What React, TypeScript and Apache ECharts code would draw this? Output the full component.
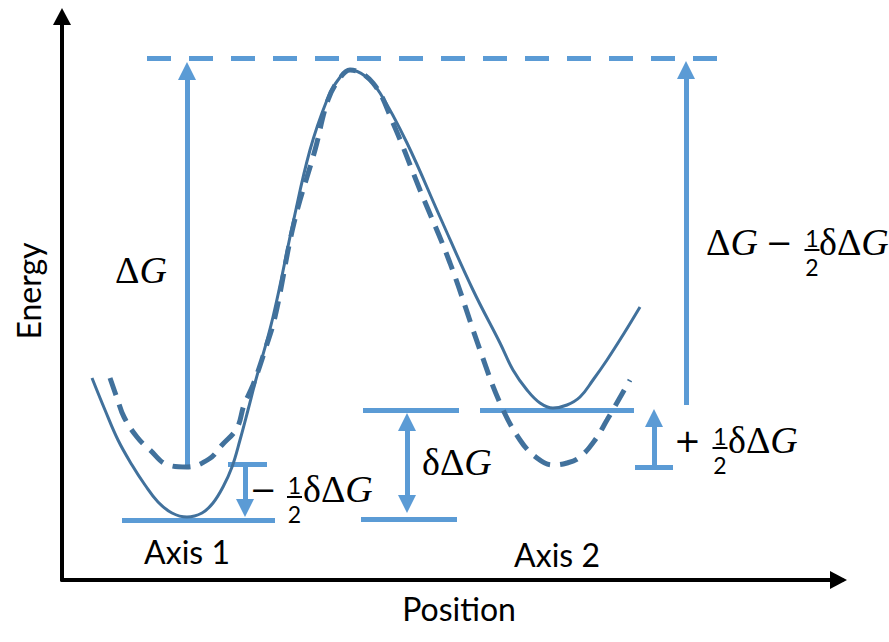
import React, { useEffect, useRef } from "react";
import * as echarts from "echarts";

// ---- axes domain (position units, energy units) ----
const X_MAX = 78;
const Y_MAX = 56;

// ---- potential-energy curves (position, energy) ----
const solidX = [3.0, 4.3, 5.6, 7.0, 8.3, 9.6, 11.0, 12.5, 14.0, 15.1, 16.1, 17.0, 17.8, 18.6, 19.3, 21.1, 23.1, 24.8, 26.5, 27.6, 28.8, 30.3, 31.8, 34.5, 37.8, 41.1, 43.8, 45.1, 46.5, 47.8, 49.1, 50.5, 51.8, 53.1, 54.5, 56.1, 57.8];
const solidY = [20.2, 17.0, 14.0, 11.5, 9.5, 7.8, 6.7, 6.3, 6.7, 7.7, 9.3, 11.3, 14.0, 17.0, 19.7, 26.3, 35.7, 43.0, 48.0, 50.0, 51.0, 50.4, 48.7, 43.7, 36.3, 29.0, 23.7, 21.0, 19.0, 17.7, 17.2, 17.5, 18.3, 20.0, 22.0, 24.5, 27.3];

const dashedX = [4.8, 5.5, 6.2, 7.5, 8.8, 10.6, 12.5, 14.7, 16.0, 17.5, 18.2, 19.1, 20.3, 21.3, 23.2, 25.3, 26.6, 27.8, 28.8, 31.1, 33.1, 35.8, 38.8, 41.8, 43.8, 45.8, 47.5, 49.1, 50.5, 51.8, 53.3, 54.5, 56.8];
const dashedY = [20.2, 18.2, 16.3, 14.3, 13.0, 11.5, 11.3, 12.1, 13.5, 15.2, 17.5, 19.5, 23.0, 26.3, 35.7, 43.0, 48.0, 50.2, 51.0, 49.7, 45.7, 39.0, 31.7, 23.0, 17.7, 14.0, 12.2, 11.5, 11.7, 12.3, 14.0, 16.0, 20.0];

// ---- energy level bars ----
const barStartX = [6.0, 16.6, 30.1, 29.9, 41.8, 57.3];
const barEndX = [21.3, 20.5, 39.7, 39.5, 57.2, 61.1];
const barLevel = [6.0, 11.6, 17.0, 6.1, 17.0, 11.3];

// barrier top (dashed)
const barrierStartX = 8.5;
const barrierEndX = 65.5;
const barrierLevel = 52.2;

// ---- single arrows: x, tail energy, tip energy ----
const arrowX = [12.5, 62.4, 18.3, 59.2];
const arrowTail = [11.5, 17.5, 11.6, 11.3];
const arrowTip = [51.8, 51.9, 6.3, 17.1];

// ---- double arrow (δΔG) ----
const dblArrowX = 34.5;
const dblArrowLow = 6.7;
const dblArrowHigh = 16.7;

// ---- texts ----
const axisXName = "Position";
const axisYName = "Energy";
const wellLabels = ["Axis 1", "Axis 2"];
const wellLabelX = [12.5, 49.5];
const wellLabelY = [2.9, 2.6];

const labelAnchorX = [5.3, 64.4, 19.1, 36.0, 61.5];
const labelAnchorY = [29.7, 32.5, 7.8, 10.5, 12.7];

// ---- styles ----
const LIGHT = "#5B9BD5";
const DARK = "#41719C";
const FONT_SANS = "Lato";
const FONT_MATH = '"Liberation Serif", "DejaVu Serif", serif';
const FONT_OP = '"DejaVu Sans", sans-serif';
const MATH_SIZE = 38;
const OP_SIZE = 32;
const DIGIT_SIZE = 23;
const ARROW_SIZE = 18;
const PX_PER_UNIT = 10;

type Piece = { kind: "expr" | "op" | "frac"; text?: string; dx: number };
const LABEL_LAYOUTS: Piece[][] = [
  [{ kind: "expr", text: "ΔG", dx: 0 }],
  [
    { kind: "expr", text: "ΔG", dx: 0 },
    { kind: "op", text: "−", dx: 60 },
    { kind: "frac", dx: 106 },
    { kind: "expr", text: "δΔG", dx: 113 },
  ],
  [
    { kind: "op", text: "−", dx: -3 },
    { kind: "frac", dx: 41.5 },
    { kind: "expr", text: "δΔG", dx: 50 },
  ],
  [{ kind: "expr", text: "δΔG", dx: 0 }],
  [
    { kind: "op", text: "+", dx: -3 },
    { kind: "frac", dx: 43 },
    { kind: "expr", text: "δΔG", dx: 51 },
  ],
];

const mathRich = {
  u: { fontFamily: FONT_MATH, fontSize: MATH_SIZE, fill: "#000" },
  i: { fontFamily: FONT_MATH, fontSize: MATH_SIZE, fontStyle: "italic", fill: "#000" },
};

function buildGraphic(toPx: (p: number[]) => number[]) {
  const els: any[] = [];
  LABEL_LAYOUTS.forEach((pieces, li) => {
    const [x0, yb] = toPx([labelAnchorX[li], labelAnchorY[li]]);
    const yc = yb - 0.33 * MATH_SIZE;
    pieces.forEach((p) => {
      if (p.kind === "expr") {
        const t = p.text as string;
        els.push({
          type: "text",
          x: x0 + p.dx,
          y: yc,
          style: {
            text: `{u|${t.slice(0, -1)}}{i|${t.slice(-1)}}`,
            rich: mathRich,
            align: "left",
            verticalAlign: "middle",
          },
        });
      } else if (p.kind === "op") {
        els.push({
          type: "text",
          x: x0 + p.dx,
          y: yb - 0.36 * OP_SIZE,
          style: {
            text: p.text,
            fontFamily: FONT_OP,
            fontSize: OP_SIZE,
            fill: "#000",
            align: "left",
            verticalAlign: "middle",
          },
        });
      } else {
        const fx = x0 + p.dx;
        els.push({
          type: "text",
          x: fx,
          y: yb - 17,
          style: { text: "1", fontFamily: FONT_SANS, fontSize: DIGIT_SIZE, fill: "#000", align: "center", verticalAlign: "middle" },
        });
        els.push({
          type: "text",
          x: fx,
          y: yb + 12,
          style: { text: "2", fontFamily: FONT_SANS, fontSize: DIGIT_SIZE, fill: "#000", align: "center", verticalAlign: "middle" },
        });
        els.push({
          type: "line",
          shape: { x1: fx - 7.5, y1: yb - 5, x2: fx + 7.5, y2: yb - 5 },
          style: { stroke: "#000", lineWidth: 2 },
        });
      }
    });
  });
  wellLabels.forEach((t, i) => {
    const [x, y] = toPx([wellLabelX[i], wellLabelY[i]]);
    els.push({
      type: "text",
      x,
      y,
      style: { text: t, fontFamily: FONT_SANS, fontSize: 32, fill: "#000", align: "center", verticalAlign: "middle" },
    });
  });
  return els;
}

export default function App() {
  const ref = useRef<HTMLDivElement>(null);
  useEffect(() => {
    if (!ref.current) return;
    const chart = echarts.init(ref.current, null, { renderer: "svg" });
    const half = ARROW_SIZE / 2 / PX_PER_UNIT;

    const arrowData = arrowX.map((x, i) => {
      const dir = Math.sign(arrowTip[i] - arrowTail[i]);
      return { coords: [[x, arrowTail[i]], [x, arrowTip[i] - dir * half]] };
    });
    const barData = barStartX.map((s, i) => ({ coords: [[s, barLevel[i]], [barEndX[i], barLevel[i]]] }));

    const axisCommon = {
      type: "value",
      axisTick: { show: false },
      axisLabel: { show: false },
      splitLine: { show: false },
      nameLocation: "middle",
    };

    chart.setOption({
      animation: false,
      backgroundColor: "#fff",
      grid: { left: 62, top: 20, width: 780, height: 560 },
      xAxis: {
        ...axisCommon,
        min: 0,
        max: X_MAX,
        name: axisXName,
        nameGap: 12,
        nameTextStyle: { fontFamily: FONT_SANS, fontSize: 32, color: "#000", padding: [0, 0, 0, 14] },
        axisLine: {
          show: true,
          symbol: ["none", "triangle"],
          symbolSize: [18, 17],
          symbolOffset: [0, -3.5],
          lineStyle: { color: "#000", width: 4 },
        },
      },
      yAxis: {
        ...axisCommon,
        min: 0,
        max: Y_MAX,
        name: axisYName,
        nameGap: 18,
        nameTextStyle: { fontFamily: FONT_SANS, fontSize: 32, color: "#000", padding: [0, 0, 0, 18] },
        axisLine: {
          show: true,
          symbol: ["none", "triangle"],
          symbolSize: [18, 17],
          symbolOffset: [0, 3.5],
          lineStyle: { color: "#000", width: 4 },
        },
      },
      series: [
        {
          type: "lines",
          coordinateSystem: "cartesian2d",
          silent: true,
          lineStyle: { color: LIGHT, width: 5, opacity: 1, type: [24, 18] },
          data: [{ coords: [[barrierStartX, barrierLevel], [barrierEndX, barrierLevel]] }],
        },
        {
          type: "lines",
          coordinateSystem: "cartesian2d",
          silent: true,
          lineStyle: { color: LIGHT, width: 5, opacity: 1 },
          data: barData,
        },
        {
          type: "lines",
          coordinateSystem: "cartesian2d",
          silent: true,
          symbol: ["none", "triangle"],
          symbolSize: ARROW_SIZE,
          lineStyle: { color: LIGHT, width: 5, opacity: 1 },
          data: arrowData,
        },
        {
          type: "lines",
          coordinateSystem: "cartesian2d",
          silent: true,
          symbol: ["triangle", "triangle"],
          symbolSize: ARROW_SIZE,
          lineStyle: { color: LIGHT, width: 5, opacity: 1 },
          data: [{ coords: [[dblArrowX, dblArrowLow + half], [dblArrowX, dblArrowHigh - half]] }],
        },
        {
          type: "line",
          silent: true,
          smooth: 0.4,
          showSymbol: false,
          lineStyle: { color: DARK, width: 3 },
          data: solidX.map((x, i) => [x, solidY[i]]),
        },
        {
          type: "line",
          silent: true,
          smooth: 0.4,
          showSymbol: false,
          lineStyle: { color: DARK, width: 5, type: [18, 10] },
          data: dashedX.map((x, i) => [x, dashedY[i]]),
        },
      ],
    });

    const toPx = (p: number[]) => chart.convertToPixel({ gridIndex: 0 }, p) as number[];
    chart.setOption({ graphic: buildGraphic(toPx) });

    return () => chart.dispose();
  }, []);

  return (
    <div
      ref={ref}
      style={{ position: "absolute", left: 0, top: 0, width: 889, height: 642, background: "#fff" }}
    />
  );
}
